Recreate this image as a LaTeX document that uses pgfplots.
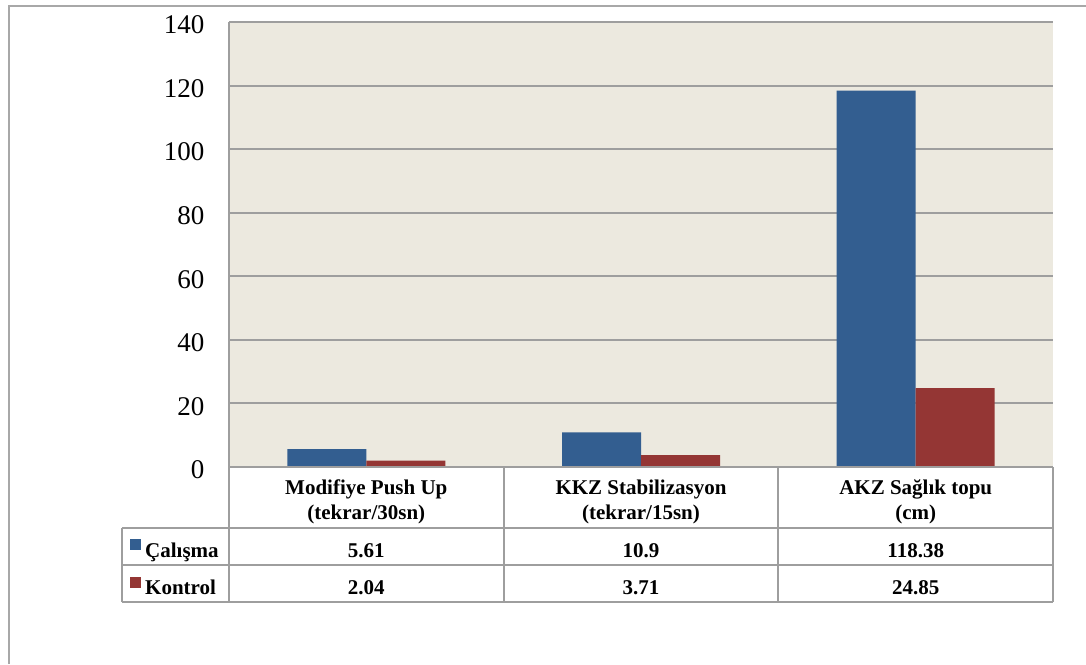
\documentclass[border=0pt]{standalone}
\usepackage{pgfplots}
\pgfplotsset{compat=1.18}
\usepackage{fontspec}
\setmainfont{Liberation Serif}
\definecolor{cblue}{HTML}{335E90}
\definecolor{cred}{HTML}{943634}
\definecolor{bgbeige}{HTML}{ECE9DF}
\definecolor{gridgray}{HTML}{9E9E9E}
\definecolor{framegray}{HTML}{A8A8A8}
\begin{document}
\begin{tikzpicture}
\path[use as bounding box] (0,0) rectangle (1086pt,-664pt);
\draw[framegray, line width=2.5pt] (9pt,-664pt) -- (9pt,-6pt) -- (1086pt,-6pt);
\begin{axis}[
  at={(229pt,-467pt)}, anchor=south west,
  width=824pt, height=445pt, scale only axis,
  xmin=-0.5, xmax=2.5, ymin=0, ymax=140,
  ytick={0,20,...,140}, xtick=\empty,
  ymajorgrids, grid style={line width=2pt, color=gridgray},
  axis background/.style={fill=bgbeige},
  axis lines*=left,
  axis line style={line width=2pt, color=gridgray},
  major tick length=0pt,
  /pgf/number format/assume math mode=true,
  yticklabel style={font=\fontsize{27}{32}\selectfont, xshift=-21pt, yshift=-3pt},
  ybar=0pt, bar width=0.2876,
]
\addplot[fill=cblue, draw=none] coordinates {(0,5.61) (1,10.9) (2,118.38)};
\addplot[fill=cred, draw=none] coordinates {(0,2.04) (1,3.71) (2,24.85)};
\end{axis}
% table grid
\begin{scope}[gridgray, line width=2pt]
\foreach \x in {229,503.67,778.33,1053} \draw (\x pt,-467pt) -- (\x pt,-602pt);
\draw (229pt,-467pt) -- (1053pt,-467pt);
\foreach \y in {528,565,602} \draw (122pt,-\y pt) -- (1053pt,-\y pt);
\draw (122pt,-528pt) -- (122pt,-602pt);
\end{scope}
\begin{scope}[every node/.style={inner sep=0pt, font=\fontsize{21}{24}\selectfont\bfseries}]
\node[anchor=base] at (366.3pt,-494pt) {Modifiye Push Up};
\node[anchor=base] at (366.3pt,-519pt) {(tekrar/30sn)};
\node[anchor=base] at (641pt,-494pt) {KKZ Stabilizasyon};
\node[anchor=base] at (641pt,-519pt) {(tekrar/15sn)};
\node[anchor=base] at (915.7pt,-494pt) {AKZ Sağlık topu};
\node[anchor=base] at (915.7pt,-519pt) {(cm)};
\node[anchor=base] at (366.3pt,-557pt) {5.61};
\node[anchor=base] at (641pt,-557pt) {10.9};
\node[anchor=base] at (915.7pt,-557pt) {118.38};
\node[anchor=base] at (366.3pt,-594pt) {2.04};
\node[anchor=base] at (641pt,-594pt) {3.71};
\node[anchor=base] at (915.7pt,-594pt) {24.85};
\node[anchor=base west] at (145pt,-557pt) {Çalışma};
\node[anchor=base west] at (145pt,-594pt) {Kontrol};
\end{scope}
\fill[cblue] (130pt,-539pt) rectangle (141pt,-550pt);
\fill[cred] (130pt,-577pt) rectangle (141pt,-588pt);
\end{tikzpicture}
\end{document}
